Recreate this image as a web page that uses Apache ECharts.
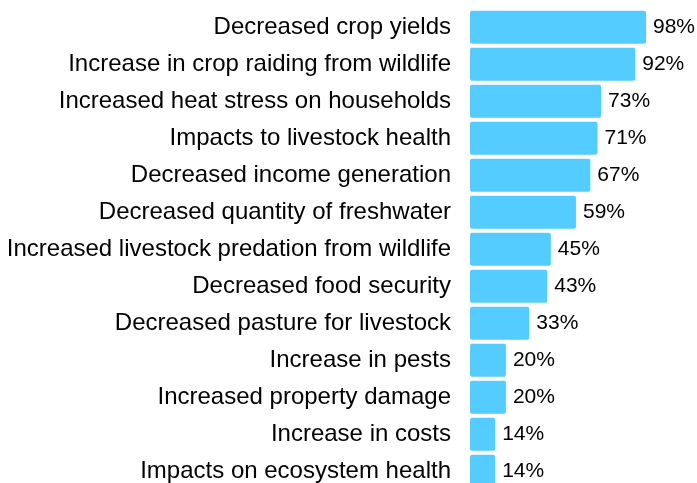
<!DOCTYPE html>
<html>
<head>
<meta charset="utf-8">
<script src="https://cdn.jsdelivr.net/npm/echarts@6/dist/echarts.min.js"></script>
<style>html,body{margin:0;padding:0;background:#fff;}#c{width:697px;height:483px;}</style>
</head>
<body>
<div id="c"></div>
<script>
var categories = [
  "Decreased crop yields",
  "Increase in crop raiding from wildlife",
  "Increased heat stress on households",
  "Impacts to livestock health",
  "Decreased income generation",
  "Decreased quantity of freshwater",
  "Increased livestock predation from wildlife",
  "Decreased food security",
  "Decreased pasture for livestock",
  "Increase in pests",
  "Increased property damage",
  "Increase in costs",
  "Impacts on ecosystem health"
];
var values = [98, 92, 73, 71, 67, 59, 45, 43, 33, 20, 20, 14, 14];

var FONT = "'Liberation Sans', Arial, sans-serif";
var chart = echarts.init(document.getElementById('c'));
chart.setOption({
  animation: false,
  grid: { left: 470, right: 47.4, top: 8.7, height: 481, containLabel: false, outerBoundsMode: 'none' },
  xAxis: { type: 'value', min: 0, max: 100, show: false },
  yAxis: {
    type: 'category',
    data: categories,
    inverse: true,
    axisLine: { show: false },
    axisTick: { show: false },
    axisLabel: { margin: 19, fontSize: 24, color: '#000', fontFamily: FONT }
  },
  series: [{
    type: 'bar',
    data: values,
    barCategoryGap: '11%',
    itemStyle: { color: '#55CCFF', borderRadius: 2 },
    label: {
      show: true,
      position: 'right',
      distance: 7,
      formatter: '{c}%',
      fontSize: 21,
      color: '#000',
      fontFamily: FONT
    }
  }]
});
</script>
</body>
</html>
